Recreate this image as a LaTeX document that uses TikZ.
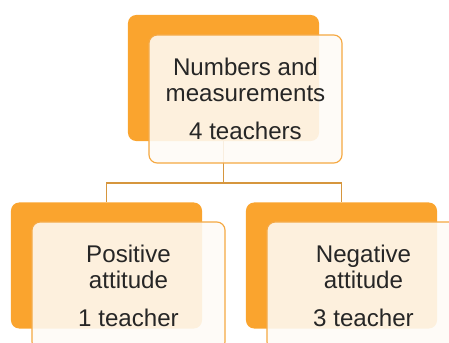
\documentclass[tikz,border=0pt]{standalone}
\usepackage{fontspec}
\setmainfont{Liberation Sans}
\definecolor{tierorange}{RGB}{250,164,46}
\definecolor{tierline}{RGB}{245,168,66}
\definecolor{tiercream}{RGB}{254,251,246}
\definecolor{linkbrown}{RGB}{214,150,62}
\begin{document}
\begin{tikzpicture}[x=0.03cm, y=-0.03cm,
    backbox/.style={fill=tierorange, rounded corners=7pt, minimum width=5.73cm, minimum height=3.78cm},
    frontbox/.style={draw=tierline, line width=1pt, fill=tiercream, fill opacity=0.88, text opacity=1,
        text=black!85, rounded corners=7pt, minimum width=5.79cm, minimum height=3.84cm, align=center,
        font=\fontsize{20.6}{22.2}\selectfont},
    link/.style={draw=linkbrown, line width=1.1pt}
]
    \useasboundingbox (0,0) rectangle (449,343);
    \clip (0,0) rectangle (449,343);

    % Orange backing cards
    \node[backbox] (numback) at (223.5,78) {};
    \node[backbox] (posback) at (106.5,265.5) {};
    \node[backbox] (negback) at (341.5,265.5) {};

    % Connectors
    \coordinate (split) at (223.5,183);
    \draw[link] (numback.south) -- (split);
    \draw[link] (split) -| (posback.north);
    \draw[link] (split) -| (negback.north);

    % Text cards
    \node[frontbox] (numfront) at (245.5,99) {Numbers and\\measurements\\[10pt]4 teachers};
    \node[frontbox] (posfront) at (128.5,286) {Positive\\attitude\\[10pt]1 teacher};
    \node[frontbox] (negfront) at (363.5,286) {Negative\\attitude\\[10pt]3 teacher};
\end{tikzpicture}
\end{document}
